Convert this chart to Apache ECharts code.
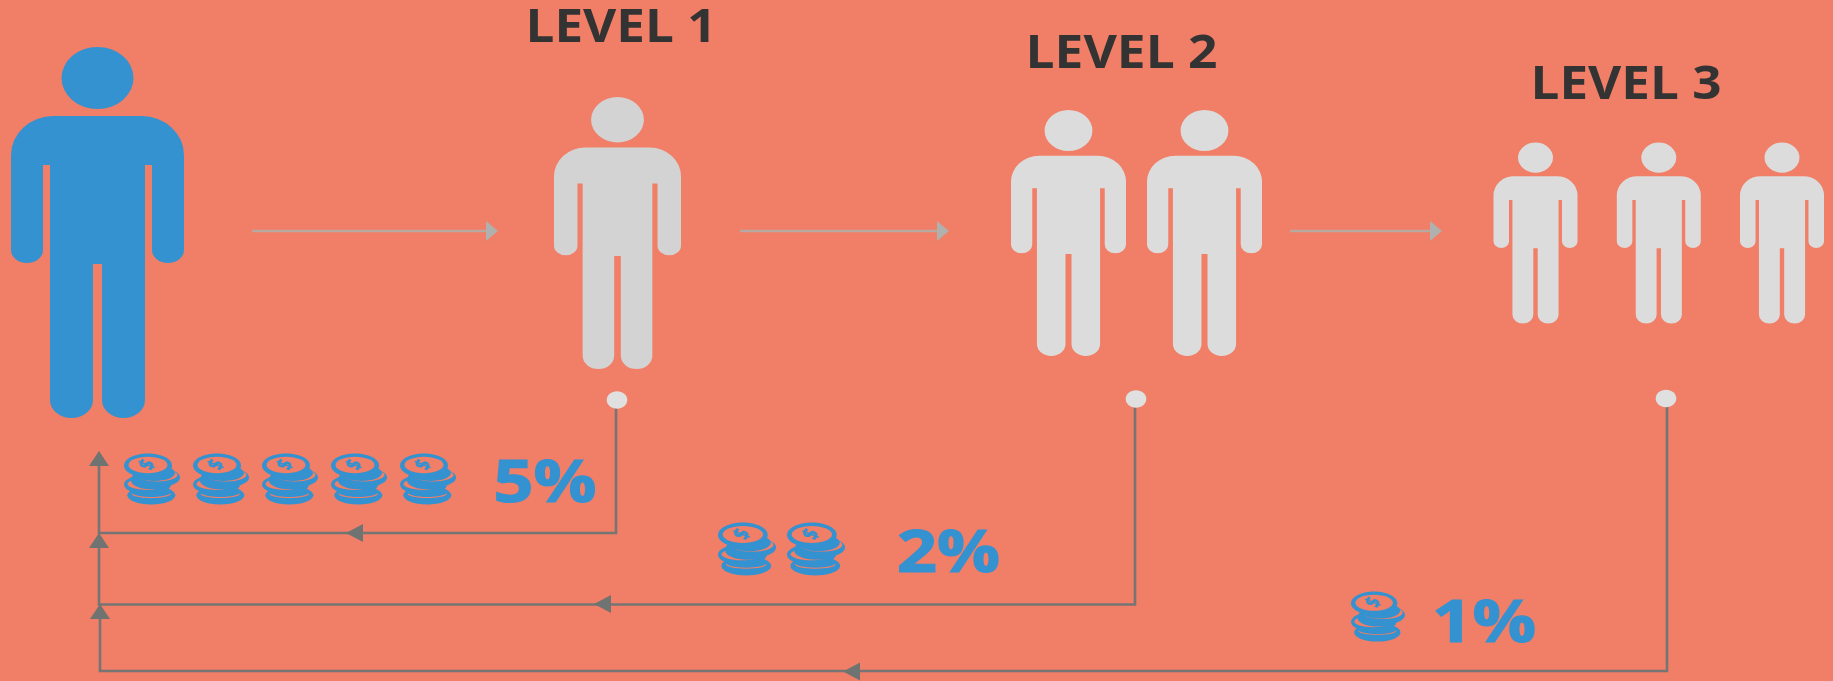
<!DOCTYPE html>
<html>
<head>
<meta charset="utf-8">
<style>html,body{margin:0;padding:0;background:#F17E66}#c{width:1833px;height:681px;filter:blur(0.45px)}</style>
<script src="https://cdn.jsdelivr.net/npm/echarts@6/dist/echarts.min.js"></script>
</head>
<body>
<div id="c"></div>
<script>
// ---- content ----
const levelLabels = ['LEVEL 1', 'LEVEL 2', 'LEVEL 3'];
const peopleCounts = [1, 2, 3];
const coinCounts = [5, 2, 1];
const rateLabels = ['5%', '2%', '1%'];

// ---- layout (pixel-space axes) ----
const W = 1833, H = 681;
const BG = '#F17E66', BLUE = '#3492D1', DARK = '#333333', LINK = '#757575';
const ARROW_LINE = '#B7A9A2', ARROW_HEAD = '#B0B0AE';

const sponsorBox = {cx: 97.5, top: 47, w: 173, h: 371, color: BLUE};
const levelBoxes = [
  {cxs: [617.5], top: 97, w: 127, h: 272, color: '#D3D3D3'},
  {cxs: [1068.5, 1204.5], top: 110, w: 115, h: 246, color: '#DCDCDC'},
  {cxs: [1535.5, 1658.8, 1782], top: 142.5, w: 84, h: 181, color: '#DCDCDC'}
];
const levelText = [
  {x: 525.5, cy: 29, w: 191},
  {x: 1025.5, cy: 55, w: 192},
  {x: 1530.5, cy: 86, w: 191}
];
const rateText = [
  {x: 493.5, cy: 485, w: 103},
  {x: 897, cy: 555, w: 103},
  {x: 1432, cy: 625, w: 104}
];
const coinLayout = [
  {x: 124, y: 453.5, w: 56, h: 51, step: 69},
  {x: 718, y: 522.5, w: 58, h: 53, step: 69},
  {x: 1351, y: 591.5, w: 54, h: 50, step: 69}
];
const flowArrows = [
  {x0: 252, x1: 498, y: 231},
  {x0: 740, x1: 949, y: 231},
  {x0: 1290, x1: 1442, y: 231}
];
const linkPaths = [
  {dot: [617, 400], pts: [[616, 400], [616, 533], [99, 533], [99, 462]], mid: [346, 533], tipY: 451},
  {dot: [1136, 399], pts: [[1135, 399], [1135, 604.5], [99, 604.5], [99, 540]], mid: [594, 604], tipY: 533},
  {dot: [1666, 398.5], pts: [[1667, 398], [1667, 671], [100, 671], [100, 612]], mid: [843, 671.5], tipY: 604}
];

const PERSON =
  'M36,31A36,31 0 1 1 -36,31A36,31 0 1 1 36,31Z' +
  'M-44,69L44,69A42.5,39 0 0 1 86.5,108L86.5,203A16,13 0 0 1 54.5,203L54.5,118L47.5,118L47.5,353' +
  'A21.5,18 0 0 1 4.5,353L4.5,217L-4.5,217L-4.5,353A21.5,18 0 0 1 -47.5,353L-47.5,118L-54.5,118' +
  'L-54.5,203A16,13 0 0 1 -86.5,203L-86.5,108A42.5,39 0 0 1 -44,69Z';

// ---- series data built from the content + layout ----
const peopleData = [[sponsorBox.cx, sponsorBox.top, sponsorBox.w, sponsorBox.h, sponsorBox.color]];
levelBoxes.forEach((b, i) => {
  for (let k = 0; k < peopleCounts[i]; k++) peopleData.push([b.cxs[k], b.top, b.w, b.h, b.color]);
});
const coinData = [];
coinCounts.forEach((n, i) => {
  const c = coinLayout[i];
  for (let k = 0; k < n; k++) coinData.push([c.x + k * c.step, c.y, c.w, c.h]);
});
const textData = [];
levelLabels.forEach((t, i) => textData.push([levelText[i].x, levelText[i].cy, levelText[i].w, t, 'L']));
rateLabels.forEach((t, i) => textData.push([rateText[i].x, rateText[i].cy, rateText[i].w, t, 'R']));

function tri(p1, p2, p3, fill, api) {
  return {type: 'polygon', shape: {points: [api.coord(p1), api.coord(p2), api.coord(p3)]}, style: {fill: fill}};
}

function renderPerson(params, api) {
  const p = api.coord([api.value(0), api.value(1)]);
  const w = api.value(2), h = api.value(3);
  return {
    type: 'path',
    shape: {pathData: PERSON, layout: 'cover', x: p[0] - w / 2, y: p[1], width: w, height: h},
    style: {fill: peopleData[params.dataIndex][4]}
  };
}

function renderCoin(params, api) {
  const p = api.coord([api.value(0), api.value(1)]);
  const sx = api.value(2) / 56, sy = api.value(3) / 51;
  const e = (cx, cy, rx, ry, fill) => ({type: 'ellipse', shape: {cx, cy, rx, ry}, style: {fill}});
  return {
    type: 'group', x: p[0], y: p[1], scaleX: sx, scaleY: sy,
    children: [
      e(27.3, 41.7, 24, 9.3, BLUE), e(27.3, 40.4, 19.5, 4, BG), e(27.3, 38.6, 20, 5, BLUE),
      e(23.5, 31, 23.5, 10, BLUE), e(23, 30.6, 19.5, 5.8, BG), e(28, 27.2, 21, 8.6, BLUE),
      e(32, 24, 24, 10, BLUE), e(33, 21.6, 20.5, 6.4, BG), e(30.5, 19.6, 20.5, 8, BLUE),
      e(24, 12, 24, 12, BLUE), e(24, 11.5, 19.5, 8.2, BG),
      {type: 'text', x: 24, y: 11.5, rotation: 1.2, scaleX: 0.75, scaleY: 1.05,
       style: {text: '$', font: '800 20px "Open Sans"', fill: BLUE, align: 'center', verticalAlign: 'middle'}}
    ]
  };
}

function renderText(params, api) {
  const p = api.coord([api.value(0), api.value(1)]);
  const d = textData[params.dataIndex];
  const isLevel = d[4] === 'L';
  const font = isLevel ? '700 46px "Open Sans"' : '700 59px "Open Sans"';
  const natural = echarts.format.getTextRect ? echarts.format.getTextRect(d[3], font).width : d[2];
  const fontStroke = isLevel ? {} : {stroke: BLUE, lineWidth: 1.2};
  return {
    type: 'text', x: p[0], y: p[1], scaleX: d[2] / natural,
    style: Object.assign({text: d[3], font: font, fill: isLevel ? DARK : BLUE, align: 'left', verticalAlign: 'middle'}, fontStroke)
  };
}

function renderFlow(params, api) {
  const a = flowArrows[params.dataIndex];
  const base = a.x1 - 12;
  return {type: 'group', children: [
    {type: 'line', shape: {x1: api.coord([a.x0, a.y])[0], y1: api.coord([a.x0, a.y])[1], x2: api.coord([base, a.y])[0], y2: api.coord([base, a.y])[1]},
     style: {stroke: ARROW_LINE, lineWidth: 2.4}},
    tri([a.x1, a.y], [base, a.y - 10], [base, a.y + 10], ARROW_HEAD, api)
  ]};
}

function renderLink(params, api) {
  const l = linkPaths[params.dataIndex];
  const tipX = l.pts[3][0];
  return {type: 'group', children: [
    {type: 'polyline', shape: {points: l.pts.map(q => api.coord(q))}, style: {stroke: LINK, lineWidth: 2.6, fill: null}},
    tri([tipX, l.tipY], [tipX - 10, l.tipY + 15], [tipX + 10, l.tipY + 15], '#6F7472', api),
    tri(l.mid, [l.mid[0] + 17, l.mid[1] - 9], [l.mid[0] + 17, l.mid[1] + 9], '#6F7472', api),
    {type: 'ellipse', shape: {cx: api.coord(l.dot)[0], cy: api.coord(l.dot)[1], rx: 10.3, ry: 8.7}, style: {fill: '#E0E0E0'}}
  ]};
}

const chart = echarts.init(document.getElementById('c'), null, {renderer: 'canvas'});
chart.setOption({
  animation: false,
  backgroundColor: BG,
  grid: {left: 0, right: 0, top: 0, bottom: 0},
  xAxis: {type: 'value', min: 0, max: W, show: false},
  yAxis: {type: 'value', min: 0, max: H, inverse: true, show: false},
  series: [
    {type: 'custom', name: 'flow', coordinateSystem: 'cartesian2d', clip: false, silent: true, data: flowArrows.map(a => [a.x0, a.y]), renderItem: renderFlow},
    {type: 'custom', name: 'links', coordinateSystem: 'cartesian2d', clip: false, silent: true, data: linkPaths.map(l => l.dot), renderItem: renderLink},
    {type: 'custom', name: 'people', coordinateSystem: 'cartesian2d', clip: false, silent: true, encode: {x: 0, y: 1}, data: peopleData.map(d => d.slice(0, 4)), renderItem: renderPerson},
    {type: 'custom', name: 'coins', coordinateSystem: 'cartesian2d', clip: false, silent: true, encode: {x: 0, y: 1}, data: coinData, renderItem: renderCoin},
    {type: 'custom', name: 'labels', coordinateSystem: 'cartesian2d', clip: false, silent: true, encode: {x: 0, y: 1}, data: textData.map(d => d.slice(0, 3)), renderItem: renderText}
  ]
});
</script>
</body>
</html>
